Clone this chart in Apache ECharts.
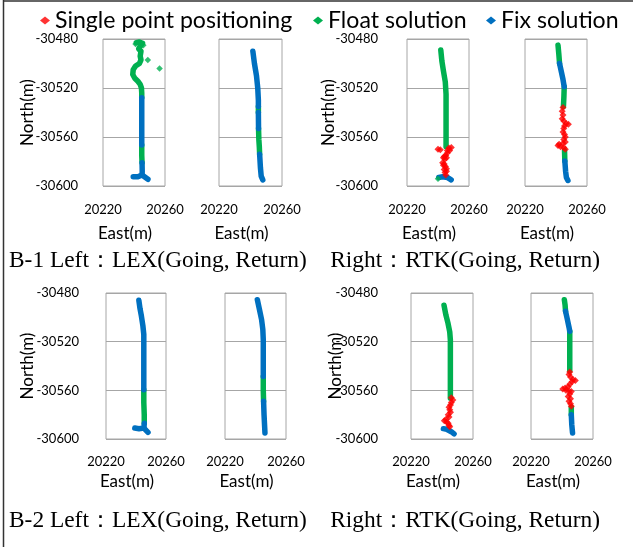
<!DOCTYPE html>
<html><head><meta charset="utf-8">
<script src="https://cdn.jsdelivr.net/npm/echarts@6/dist/echarts.min.js"></script>
<style>html,body{margin:0;padding:0;background:#fff}#c{width:633px;height:547px}</style>
</head><body><div id="c"></div>
<script>
// ---- axis ticks / labels ----
const eastTicks = [20220, 20260];
const northTicks = [-30600, -30560, -30520, -30480];
const classNames = ['Single point positioning', 'Float solution', 'Fix solution'];
const captions = ['B-1 Left：LEX(Going, Return)    Right：RTK(Going, Return)',
                  'B-2 Left：LEX(Going, Return)    Right：RTK(Going, Return)'];

// ---- Panel 1: B-1 LEX going ----
const p1Float = [
  [[20241.5,-30483],[20243.5,-30482.5],[20245.5,-30483.5],[20244,-30486],[20243,-30488],[20244.5,-30490],[20244,-30494],[20244.5,-30497],[20243.5,-30500],[20241,-30502],[20239.5,-30505],[20239.2,-30509],[20240.5,-30512],[20242.5,-30514.5],[20244,-30517],[20244.8,-30520],[20245,-30524],[20245,-30528]],
  [[20245,-30566.5],[20245,-30575],[20245.2,-30581]]
];
const p1FloatDots = [[20248.9,-30497.2],[20256.5,-30504],[20241,-30484],[20246,-30485]];
const p1Fix = [
  [[20245,-30528],[20245,-30540],[20245,-30555],[20245,-30566.5]],
  [[20245.2,-30581],[20245.3,-30588],[20245.2,-30591],[20242.5,-30592.5],[20239.5,-30592.5]],
  [[20245.2,-30591],[20249,-30594.5]]
];
const p1Spp = [];

// ---- Panel 2: B-1 LEX return ----
const p2Float = [
  [[20245,-30535],[20245,-30540]],
  [[20245.1,-30553],[20245.3,-30562],[20245.6,-30568],[20245.8,-30574]]
];
const p2FloatDots = [];
const p2Fix = [
  [[20241.5,-30490],[20242.5,-30500],[20243.8,-30510],[20244.6,-30520],[20245,-30530],[20245,-30535]],
  [[20245,-30540],[20245.1,-30553]],
  [[20245.8,-30574],[20246.3,-30585],[20246.8,-30592],[20247.8,-30595]]
];
const p2Spp = [];

// ---- Panel 3: B-1 RTK going ----
const p3Float = [
  [[20241.8,-30489],[20242.5,-30498],[20243.5,-30506],[20244.7,-30515],[20245.2,-30525],[20245.2,-30545],[20245.2,-30568]]
];
const p3FloatDots = [[20240,-30594]];
const p3Fix = [
  [[20240.5,-30593],[20243,-30592.5],[20246,-30593],[20248.5,-30595]]
];
const p3Spp = [[20240,-30570],[20241.5,-30570.5],[20248.6,-30568.5],[20247,-30569],[20246,-30571],[20247.5,-30571],[20246,-30573],[20245,-30575],[20244,-30576],[20243.5,-30577],[20245.5,-30577],[20244.5,-30578],[20243,-30581],[20244,-30582],[20243.5,-30583],[20244.8,-30584],[20245.5,-30586],[20244,-30586.5],[20245.5,-30588],[20244.5,-30589],[20245,-30591]];

// ---- Panel 4: B-1 RTK return ----
const p4Float = [
  [[20241.3,-30485],[20241.8,-30492],[20242.3,-30500]],
  [[20245.3,-30519],[20245.1,-30527],[20244.8,-30535]],
  [[20245.5,-30571],[20245.7,-30579.5]]
];
const p4FloatDots = [];
const p4Fix = [
  [[20242.3,-30500],[20243.5,-30507],[20244.5,-30513],[20245.3,-30519]],
  [[20245.7,-30579.5],[20246.2,-30588],[20246.7,-30593],[20247.7,-30595.5]]
];
const p4Spp = [[20244.5,-30536],[20244,-30539],[20244.5,-30542],[20244,-30545],[20245,-30547],[20246.5,-30549],[20248,-30549.5],[20245.5,-30551],[20245,-30553],[20244.5,-30556],[20245.5,-30558],[20246,-30560],[20245,-30562],[20246,-30564],[20244.5,-30565],[20242,-30566],[20241.3,-30567],[20243,-30568],[20245,-30568.5],[20246,-30570]];

// ---- Panel 5: B-2 LEX going ----
const p5Float = [
  [[20245.2,-30559.5],[20245.2,-30570],[20245.5,-30580],[20245.5,-30587]]
];
const p5FloatDots = [];
const p5Fix = [
  [[20241.9,-30486],[20242.7,-30493],[20243.6,-30499],[20244.6,-30507],[20245.2,-30514],[20245.2,-30530],[20245.2,-30545],[20245.2,-30559.5]],
  [[20245.5,-30587],[20245.3,-30591],[20242,-30591.5],[20239.2,-30591]],
  [[20245.3,-30591],[20248,-30594.5]]
];
const p5Spp = [];

// ---- Panel 6: B-2 LEX return ----
const p6Float = [
  [[20245.1,-30548.6],[20245.1,-30560],[20245.3,-30569]]
];
const p6FloatDots = [];
const p6Fix = [
  [[20241.2,-30485.5],[20242.5,-30493],[20244,-30502],[20244.8,-30510],[20245.1,-30518.6],[20245.1,-30535],[20245.1,-30548.6]],
  [[20245.3,-30569],[20245.6,-30580],[20246,-30590],[20246.2,-30595]]
];
const p6Spp = [];

// ---- Panel 7: B-2 RTK going ----
const p7Float = [
  [[20241.3,-30490],[20242.5,-30498],[20243.9,-30505],[20245,-30512],[20245.4,-30518.6],[20245.4,-30540],[20245.4,-30566.6]]
];
const p7FloatDots = [];
const p7Fix = [
  [[20240.9,-30591.5],[20243,-30592],[20246,-30594],[20247.8,-30595.8]]
];
const p7Spp = [[20246,-30566],[20247,-30568],[20246,-30570],[20245.5,-30572],[20244.5,-30574],[20245,-30576],[20245.5,-30578],[20244,-30580],[20244.5,-30582],[20242.5,-30584],[20241.5,-30585],[20243,-30586],[20244,-30587],[20244.5,-30589],[20245,-30590]];

// ---- Panel 8: B-2 RTK return ----
const p8Float = [
  [[20241.5,-30485.5],[20242,-30490],[20242.3,-30495]],
  [[20245,-30511.5],[20245,-30525],[20245,-30544]],
  [[20246,-30574],[20246,-30580]]
];
const p8FloatDots = [];
const p8Fix = [
  [[20242.3,-30495],[20243.5,-30502],[20244.5,-30508],[20245,-30511.5]],
  [[20246,-30580],[20246.3,-30588],[20246.8,-30595]]
];
const p8Spp = [[20245,-30545],[20244.5,-30547],[20245.5,-30549],[20247,-30551],[20248.6,-30552],[20246.5,-30553],[20245,-30555],[20244,-30557],[20242,-30558],[20240.5,-30559],[20242.5,-30560],[20244.5,-30560.5],[20246,-30561],[20245,-30563],[20244,-30565],[20245.5,-30567],[20244.5,-30569],[20245.5,-30571],[20246,-30573]];

const panels = [
  {spp:p1Spp, flt:p1Float, fltDots:p1FloatDots, fix:p1Fix},
  {spp:p2Spp, flt:p2Float, fltDots:p2FloatDots, fix:p2Fix},
  {spp:p3Spp, flt:p3Float, fltDots:p3FloatDots, fix:p3Fix},
  {spp:p4Spp, flt:p4Float, fltDots:p4FloatDots, fix:p4Fix},
  {spp:p5Spp, flt:p5Float, fltDots:p5FloatDots, fix:p5Fix},
  {spp:p6Spp, flt:p6Float, fltDots:p6FloatDots, fix:p6Fix},
  {spp:p7Spp, flt:p7Float, fltDots:p7FloatDots, fix:p7Fix},
  {spp:p8Spp, flt:p8Float, fltDots:p8FloatDots, fix:p8Fix}
];

// ---- layout (styling only) ----
const COLORS = ['#FF0000', '#00B050', '#0070C0'];
const SANS = 'Lato';
const layout = [
  {left:103, top:39, width:62, height:147, yLab:true, yMargin:25, yNameGap:67, xMargin:17, xNameGap:39},
  {left:219, top:39, width:63, height:147, yLab:false, xMargin:17, xNameGap:39},
  {left:407, top:39, width:62, height:147, yLab:true, yMargin:29, yNameGap:70, xMargin:17, xNameGap:39},
  {left:525, top:39, width:62, height:147, yLab:false, xMargin:17, xNameGap:39},
  {left:106, top:293, width:60, height:146, yLab:true, yMargin:27, yNameGap:70, xMargin:16, xNameGap:34},
  {left:225, top:293, width:61, height:146, yLab:false, xMargin:16, xNameGap:34},
  {left:411, top:293, width:62, height:146, yLab:true, yMargin:33, yNameGap:67, xMargin:16, xNameGap:34},
  {left:531, top:293, width:62, height:146, yLab:false, xMargin:16, xNameGap:34}
];
const plain = v => String(v);

const grid = [], xAxis = [], yAxis = [], series = [];
layout.forEach((L, i) => {
  grid.push({left:L.left, top:L.top, width:L.width, height:L.height, show:true,
             borderColor:'#a6a6a6', borderWidth:1, containLabel:false});
  xAxis.push({type:'value', gridIndex:i, min:eastTicks[0], max:eastTicks[eastTicks.length-1],
    interval:eastTicks[1]-eastTicks[0],
    name:'East(m)', nameLocation:'middle', nameGap:L.xNameGap, nameMoveOverlap:false,
    nameTextStyle:{fontFamily:SANS, fontSize:17, color:'#000', padding:[0,18,0,0]},
    axisLine:{show:false}, axisTick:{show:false}, splitLine:{show:false},
    axisLabel:{fontFamily:SANS, fontSize:13, color:'#000', margin:L.xMargin, formatter:plain}});
  yAxis.push({type:'value', gridIndex:i, min:northTicks[0], max:northTicks[northTicks.length-1],
    interval:northTicks[1]-northTicks[0],
    name:L.yLab ? 'North(m)' : '', nameLocation:'middle', nameGap:L.yNameGap||0, nameMoveOverlap:false,
    nameTextStyle:{fontFamily:SANS, fontSize:17, color:'#000'},
    axisLine:{show:false}, axisTick:{show:false},
    splitLine:{show:true, lineStyle:{color:'#a6a6a6', width:1}},
    axisLabel:{show:L.yLab, fontFamily:SANS, fontSize:13, color:'#000', margin:L.yMargin||8, formatter:plain}});
  const P = panels[i];
  if (P.spp.length) series.push({type:'scatter', name:classNames[0], xAxisIndex:i, yAxisIndex:i,
    data:P.spp, symbol:'diamond', symbolSize:7, itemStyle:{color:COLORS[0]}, z:3});
  P.flt.forEach(seg => series.push({type:'line', name:classNames[1], xAxisIndex:i, yAxisIndex:i,
    data:seg, showSymbol:false, symbol:'diamond', itemStyle:{color:COLORS[1]},
    lineStyle:{width:5.5, color:COLORS[1], cap:'round', join:'round'}, z:2}));
  if (P.fltDots.length) series.push({type:'scatter', name:classNames[1], xAxisIndex:i, yAxisIndex:i,
    data:P.fltDots, symbol:'diamond', symbolSize:6.5, itemStyle:{color:COLORS[1]}, z:2});
  P.fix.forEach(seg => series.push({type:'line', name:classNames[2], xAxisIndex:i, yAxisIndex:i,
    data:seg, showSymbol:false, symbol:'diamond', itemStyle:{color:COLORS[2]},
    lineStyle:{width:5.5, color:COLORS[2], cap:'round', join:'round'}, z:2}));
});

const legendLefts = [40, 313, 486];
const legend = classNames.map((n, k) => ({
  left: legendLefts[k], top: 7, padding:0, orient:'horizontal', itemWidth:10, itemHeight:8, itemGap:0,
  icon:'diamond', data:[{name:n, icon:'diamond', itemStyle:{color:COLORS[k]}}],
  textStyle:{fontFamily:SANS, fontSize:23.1, color:'#000', lineHeight:27}
}));

const option = {
  animation:false,
  backgroundColor:'#fff',
  grid, xAxis, yAxis, series, legend,
  graphic:[
    {type:'line', shape:{x1:3.5, y1:0, x2:3.5, y2:547}, style:{stroke:'#333', lineWidth:1.5}, silent:true},
    {type:'line', shape:{x1:3, y1:1, x2:633, y2:1}, style:{stroke:'#333', lineWidth:1.5}, silent:true},
    {type:'text', left:9, top:249, style:{text:captions[0], font:'23.4px "Liberation Serif"', fill:'#000'}},
    {type:'text', left:9, top:509, style:{text:captions[1], font:'23.4px "Liberation Serif"', fill:'#000'}}
  ]
};
echarts.init(document.getElementById('c')).setOption(option);
</script></body></html>
